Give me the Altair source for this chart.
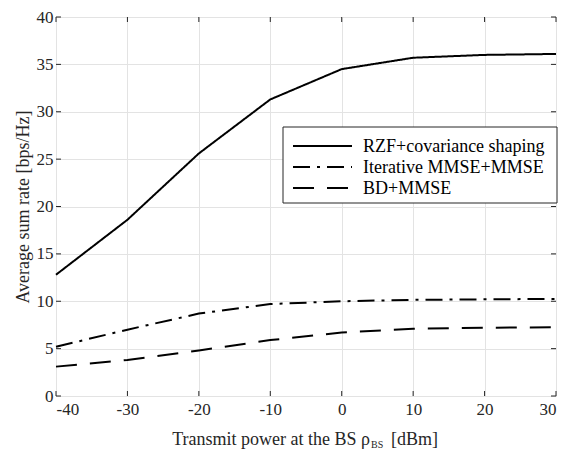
import altair as alt
import pandas as pd

power = [-40, -30, -20, -10, 0, 10, 20, 30]
rzf = [12.8, 18.6, 25.6, 31.3, 34.5, 35.7, 36.0, 36.1]
iterative = [5.2, 7.0, 8.7, 9.7, 10.0, 10.15, 10.2, 10.25]
bd = [3.1, 3.8, 4.8, 5.9, 6.7, 7.1, 7.2, 7.25]

series_names = ["RZF+covariance shaping", "Iterative MMSE+MMSE", "BD+MMSE"]
dashes = [[1, 0], [17, 7, 3, 7], [21, 13]]
x_ticks = [-40, -30, -20, -10, 0, 10, 20, 30]
y_ticks = [0, 5, 10, 15, 20, 25, 30, 35, 40]

rows = []
for name, vals in zip(series_names, [rzf, iterative, bd]):
    for p, v in zip(power, vals):
        rows.append({"power": p, "rate": v, "series": name})
df = pd.DataFrame(rows)

W, H = 500, 379
TOP = 9
FONT = "Liberation Serif"
FS = 18
LFS = 17
AX = "#262626"

xscale = alt.Scale(domain=[-40, 30], nice=False, zero=False)
yscale = alt.Scale(domain=[0, 40], nice=False)

lines = alt.Chart(df).mark_line(strokeWidth=2, color="black").encode(
    x=alt.X("power:Q", scale=xscale,
            axis=alt.Axis(values=x_ticks, title="", grid=True, ticks=False, domain=False,
                          labelPadding=5, labelFontSize=LFS, labelFont=FONT, labelColor=AX,
                          gridColor="#e3e3e3", labelExpr="'' + datum.value")),
    y=alt.Y("rate:Q", scale=yscale,
            axis=alt.Axis(values=y_ticks, title="Average sum rate [bps/Hz]", grid=True,
                          ticks=False, domain=False, labelPadding=3, labelFontSize=LFS,
                          labelFont=FONT, labelColor=AX, gridColor="#e3e3e3",
                          labelExpr="'' + datum.value",
                          titleFont=FONT, titleFontSize=FS, titleFontWeight="normal",
                          titleColor=AX, titlePadding=4)),
    strokeDash=alt.StrokeDash(
        "series:N",
        scale=alt.Scale(domain=series_names, range=dashes),
        legend=None,
    ),
)

xt = pd.DataFrame({"power": x_ticks})
yt = pd.DataFrame({"rate": y_ticks})

bottom_ticks = alt.Chart(xt).mark_rule(color=AX, strokeWidth=1).encode(
    x=alt.X("power:Q", scale=xscale), y=alt.value(H), y2=alt.value(H - 5))
top_ticks = alt.Chart(xt).mark_rule(color=AX, strokeWidth=1).encode(
    x=alt.X("power:Q", scale=xscale), y=alt.value(0), y2=alt.value(5))
left_ticks = alt.Chart(yt).mark_rule(color=AX, strokeWidth=1).encode(
    y=alt.Y("rate:Q", scale=yscale), x=alt.value(0), x2=alt.value(5))
right_ticks = alt.Chart(yt).mark_rule(color=AX, strokeWidth=1).encode(
    y=alt.Y("rate:Q", scale=yscale), x=alt.value(W), x2=alt.value(W - 5))

one = pd.DataFrame({"a": [0]})

# legend (drawn by hand so the rows are compact)
OFF = TOP + 8
LX0, LX1, LY0, LY1 = 227, 501, 127 - OFF, 203 - OFF
legend_box = alt.Chart(one).mark_rect(fill="white", stroke=AX, strokeWidth=1).encode(
    x=alt.value(LX0), x2=alt.value(LX1), y=alt.value(LY0), y2=alt.value(LY1))
legend_layers = [legend_box]
row_y = [146 - OFF, 167 - OFF, 188 - OFF]
for name, dash, ry in zip(series_names, dashes, row_y):
    legend_layers.append(
        alt.Chart(one).mark_rule(color="black", strokeWidth=2, strokeDash=dash).encode(
            x=alt.value(237), x2=alt.value(296), y=alt.value(ry)))
    legend_layers.append(
        alt.Chart(one).mark_text(text=name, font=FONT, fontSize=FS, align="left",
                                 baseline="middle", color="black").encode(
            x=alt.value(307), y=alt.value(ry + 1)))

XR = 314
TY = 445 - OFF
t1 = alt.Chart(one).mark_text(text="Transmit power at the BS \u03c1", font=FONT, fontSize=FS,
                              align="right", baseline="alphabetic", color=AX).encode(
    x=alt.value(XR), y=alt.value(TY))
t2 = alt.Chart(one).mark_text(text="BS", font=FONT, fontSize=10, align="left",
                              baseline="alphabetic", color=AX).encode(
    x=alt.value(XR + 1), y=alt.value(TY + 3))
t3 = alt.Chart(one).mark_text(text="[dBm]", font=FONT, fontSize=FS, align="left",
                              baseline="alphabetic", color=AX).encode(
    x=alt.value(XR + 21), y=alt.value(TY))

chart = alt.layer(lines, bottom_ticks, top_ticks, left_ticks, right_ticks,
                  *legend_layers, t1, t2, t3).properties(
    width=W, height=H,
    autosize=alt.AutoSizeParams(type="none"),
    padding={"left": 48, "top": TOP, "right": 5, "bottom": 55},
).configure_view(stroke=AX, strokeWidth=1).configure(background="white")

chart.save("out.html", embed_options={"renderer": "svg", "actions": False})
